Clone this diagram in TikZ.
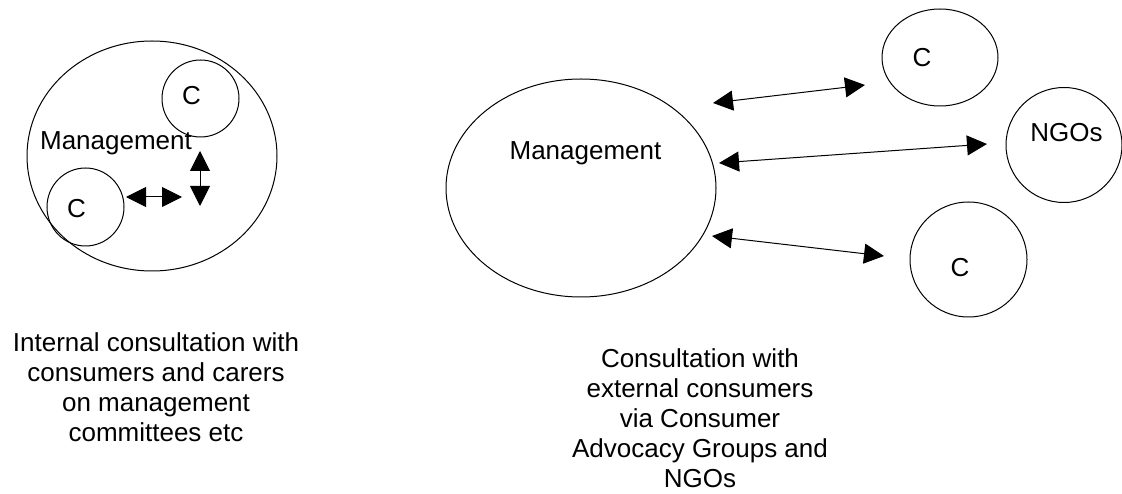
\documentclass[tikz,border=0pt]{standalone}
\usepackage{fontspec}
\setmainfont{Liberation Sans}
\usetikzlibrary{shapes.geometric,arrows.meta}
\tikzset{
  oval/.style={draw, ellipse, line width=1pt, inner sep=0pt},
  link/.style={line width=1pt, {Triangle[length=20pt,width=20pt]}-{Triangle[length=20pt,width=20pt]}},
  big/.style={font=\fontsize{26}{30}\selectfont, inner sep=0pt},
  caption/.style={big, align=center, anchor=base}
}
\begin{document}
\begin{tikzpicture}[x=1pt,y=-1pt]
\useasboundingbox (0,0) rectangle (1122,494);
% left diagram
\node[oval, minimum width=250pt, minimum height=230pt] (lm) at (152,156) {};
\node[oval, minimum width=77pt, minimum height=77pt] (lc1) at (200.5,98.5) {};
\node[oval, minimum width=77pt, minimum height=78pt] (lc2) at (85.5,207) {};
\node[big, anchor=base] (lmt) at (116,150) {Management};
\node[big] (lc1t) at ([xshift=-9pt,yshift=3pt]lc1.center) {C};
\node[big] (lc2t) at ([xshift=-9pt,yshift=-2pt]lc2.center) {C};
\coordinate (va) at (200,151);
\coordinate (vb) at (200,206);
\coordinate (ha) at (126,197);
\coordinate (hb) at (182,197);
\draw[link] (va) -- (vb);
\draw[link] (ha) -- (hb);
\node[caption] (lcap) at (156,441) {Internal consultation with\\consumers and carers\\on management\\committees etc};
% right diagram
\node[oval, minimum width=270pt, minimum height=218pt] (rm) at (581,188) {};
\node[big, anchor=base] (rmt) at (585.5,160) {Management};
\node[oval, minimum width=116pt, minimum height=97pt] (rc1) at (940,57.5) {};
\node[oval, minimum width=116pt, minimum height=115pt] (ngo) at (1064,145) {};
\node[oval, minimum width=117pt, minimum height=115pt] (rc2) at (968.5,259.5) {};
\node[big] (rc1t) at ([xshift=-18pt]rc1.center) {C};
\node[big] (ngot) at ([xshift=2.5pt,yshift=12pt]ngo.center) {NGOs};
\node[big] (rc2t) at ([xshift=-8.5pt,yshift=-8.5pt]rc2.center) {C};
\coordinate (a1) at (713,103);
\coordinate (b1) at (865,85);
\coordinate (a2) at (719,163);
\coordinate (b2) at (987,144);
\coordinate (a3) at (712,236);
\coordinate (b3) at (884,256);
\draw[link] (a1) -- (b1);
\draw[link] (a2) -- (b2);
\draw[link] (a3) -- (b3);
\node[caption] (rcap) at (700,487) {Consultation with\\external consumers\\via Consumer\\Advocacy Groups and\\NGOs};
\end{tikzpicture}
\end{document}
